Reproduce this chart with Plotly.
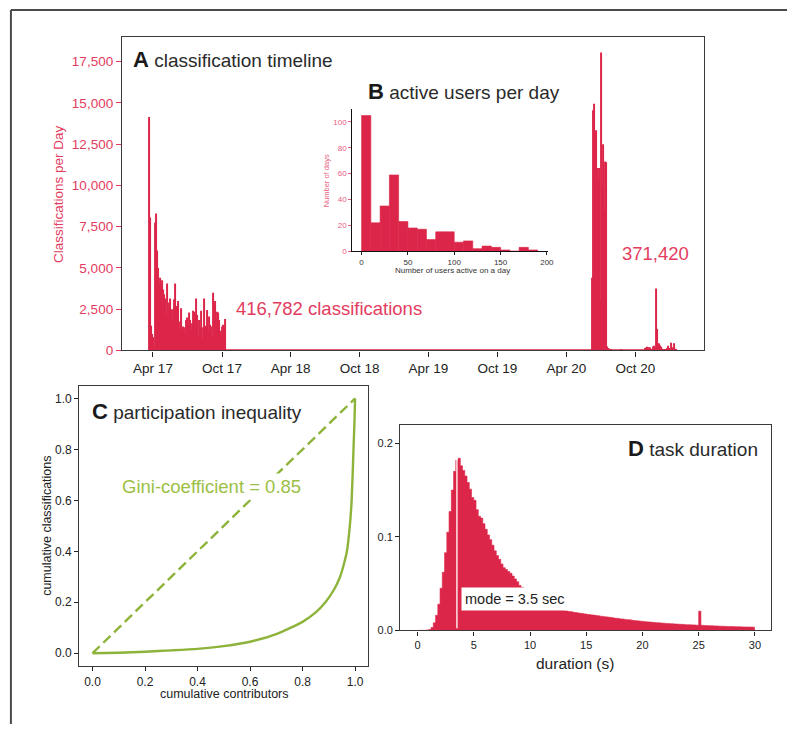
import datetime as dt
import plotly.graph_objects as go

W, H = 793, 732

# ---------------- A: classification timeline ----------------
timeline_tick_dates = ["2017-04-01", "2017-10-01", "2018-04-01", "2018-10-01",
                       "2019-04-01", "2019-10-01", "2020-04-01", "2020-10-01"]
timeline_tick_labels = ["Apr 17", "Oct 17", "Apr 18", "Oct 18",
                        "Apr 19", "Oct 19", "Apr 20", "Oct 20"]
timeline_range = ["2017-01-09", "2021-03-31"]
classif_ticks = [0, 2500, 5000, 7500, 10000, 12500, 15000, 17500]
bin_days = 2.63  # one bar per ~2.6 days as resolved in the picture
phase1_start = "2017-03-21"
phase1_daily = [14150, 8050, 1500, 1000, 800, 220, 7750, 8300, 6050, 5000,
                4050, 4400, 3850, 4250, 3700, 3400, 3150, 2150, 4050, 2500,
                2900, 3150, 2500, 1900, 2500, 3100, 4050, 2700, 2700, 3000,
                1350, 1750, 2550, 1250, 1450, 1400, 1050, 1850, 2000, 1500,
                2300, 1850, 1300, 1650, 2400, 2350, 2150, 3150, 2150, 900,
                1850, 1300, 2400, 700, 1400, 3150, 1400, 1500, 2450, 1200,
                2050, 1550, 1450, 850, 3500, 2800, 3000, 1900, 2350, 2300,
                1850, 1200, 950, 1450, 1550, 1450, 1900]
phase2_start = "2020-06-06"
phase2_daily = [4400, 14550, 14950, 13250, 13350, 11050, 10450, 11050, 3050, 18050,
                9950, 12500, 8500, 11450, 11400, 240, 140, 100, 60, 40,
                0, 0, 0, 0, 0, 0, 0, 0, 0, 0,
                80, 0, 0, 0, 0, 0, 0, 0, 0, 0,
                0, 0, 0, 0, 0, 0, 0, 0, 0, 0,
                0, 0, 0, 0, 140, 180, 220, 160, 200, 180,
                40, 80, 240, 280, 140, 3750, 1300, 440, 420, 300,
                220, 100, 60, 40, 40, 60, 140, 280, 140, 40,
                460, 200, 100, 440, 100, 60]
phase1_total = 416782
phase2_total = 371420

# ---------------- B: active users per day ----------------
users_bin_left = [0, 10, 20, 30, 40, 50, 60, 70, 80, 90,
                  100, 110, 120, 130, 140, 150, 160, 170, 180]
users_bin_width = 10
days_count = [105, 22, 35, 59, 23, 18, 17, 9, 15, 15,
              7, 8, 2, 4, 3, 1, 0, 3, 1]
users_ticks = [0, 50, 100, 150, 200]
days_ticks = [0, 20, 40, 60, 80, 100]

# ---------------- C: participation inequality ----------------
contrib_share = [0, 0.1, 0.2, 0.3, 0.4, 0.5, 0.6, 0.7, 0.8, 0.85,
                 0.887, 0.92, 0.943, 0.96, 0.969, 0.98, 0.987, 0.994, 0.998, 1.0]
classif_share = [0, 0.002, 0.006, 0.011, 0.017, 0.028, 0.045, 0.075, 0.123, 0.16,
                 0.2, 0.25, 0.3, 0.36, 0.4, 0.5, 0.6, 0.8, 0.92, 1.0]
equality = [0, 1]
gini = 0.85
lorenz_ticks = [0.0, 0.2, 0.4, 0.6, 0.8, 1.0]

# ---------------- D: task duration ----------------
duration_bin_width = 0.2
duration_density = [
    0, 0, 0, 0, 0.0004, 0.001, 0.003, 0.008, 0.016, 0.028,
    0.045, 0.062, 0.083, 0.105, 0.127, 0.150, 0.170, 0.182, 0.184, 0.176,
    0.171, 0.165, 0.158, 0.151, 0.142, 0.139, 0.129, 0.122, 0.120, 0.114,
    0.108, 0.102, 0.097, 0.091, 0.085, 0.080, 0.076, 0.071, 0.067, 0.065,
    0.063, 0.061, 0.058, 0.055, 0.052, 0.048, 0.046, 0.044, 0.042, 0.040,
    0.039, 0.037, 0.036, 0.034, 0.033, 0.031, 0.030, 0.029, 0.028, 0.027,
    0.026, 0.025, 0.024, 0.023, 0.022, 0.0212, 0.0208, 0.0201, 0.0199, 0.0193,
    0.0190, 0.0186, 0.0182, 0.0179, 0.0176, 0.0171, 0.0169, 0.0165, 0.0163, 0.0158,
    0.0156, 0.0151, 0.0149, 0.0145, 0.0143, 0.0139, 0.0136, 0.0131, 0.0129, 0.0127,
    0.0122, 0.0120, 0.0117, 0.0114, 0.0112, 0.0108, 0.0105, 0.0103, 0.0100, 0.0098,
    0.0095, 0.0093, 0.0090, 0.0089, 0.0086, 0.0084, 0.0082, 0.0080, 0.0078, 0.0077,
    0.0074, 0.0073, 0.0071, 0.0070, 0.0068, 0.0067, 0.0065, 0.0064, 0.0063, 0.0061,
    0.0060, 0.0059, 0.0058, 0.0057, 0.0055, 0.0205, 0.0054, 0.0052, 0.0051, 0.0050,
    0.0049, 0.0048, 0.0047, 0.0046, 0.0045, 0.0044, 0.0043, 0.0042, 0.0041, 0.0041,
    0.0040, 0.0039, 0.0038, 0.0038, 0.0037, 0.0036, 0.0036, 0.0035, 0.0035, 0.0034]
duration_ticks = [0, 5, 10, 15, 20, 25, 30]
density_ticks = [0.0, 0.1, 0.2]
mode_sec = 3.5

# ---------------- styling ----------------
FONT = "Liberation Sans"
BAR = "#dc2649"
RED_TXT = "#e33c60"
PINK_TXT = "#e8607f"
GREEN = "#8db33a"
GREEN_TXT = "#9cbf45"
DARK = "#222222"
FRAME = "#3a3a3a"
BAR_MARKER = dict(color=BAR, line=dict(color=BAR, width=0.6))


def px_x(p):
    return p / W


def px_y(p):
    return 1 - p / H


def bar_centers(start, n):
    s = dt.datetime.fromisoformat(start)
    return [s + dt.timedelta(days=bin_days * (i + 0.5)) for i in range(n)]


fig = go.Figure()

# A
fig.add_trace(go.Scatter(
    x=[phase1_start,
       dt.datetime.fromisoformat(phase2_start) + dt.timedelta(days=bin_days * len(phase2_daily))],
    y=[0, 0], mode="lines", line=dict(color=BAR, width=2.2),
    xaxis="x", yaxis="y", showlegend=False, hoverinfo="skip"))
for start, vals in [(phase1_start, phase1_daily), (phase2_start, phase2_daily)]:
    fig.add_trace(go.Bar(
        x=bar_centers(start, len(vals)), y=vals,
        width=bin_days * 86400000, marker=dict(color=BAR, line=dict(width=0)),
        xaxis="x", yaxis="y", showlegend=False))

# B (inset)
fig.add_trace(go.Bar(
    x=users_bin_left, y=days_count, offset=0, width=users_bin_width,
    marker=BAR_MARKER, xaxis="x2", yaxis="y2", showlegend=False))

# C
fig.add_trace(go.Scatter(
    x=equality, y=equality, mode="lines",
    line=dict(color=GREEN, width=2.4, dash="10px,5px"),
    xaxis="x3", yaxis="y3", showlegend=False))
fig.add_trace(go.Scatter(
    x=contrib_share, y=classif_share, mode="lines",
    line=dict(color=GREEN, width=2.4, shape="spline", smoothing=0.6),
    xaxis="x3", yaxis="y3", showlegend=False))

# D: histogram drawn as a filled step outline (no seams between thin bins)
dur_edges = [i * duration_bin_width for i in range(len(duration_density) + 1)]
fig.add_trace(go.Scatter(
    x=dur_edges, y=duration_density + [duration_density[-1]],
    mode="lines", line=dict(color=BAR, width=0.6, shape="hv"),
    fill="tozeroy", fillcolor=BAR,
    xaxis="x4", yaxis="y4", showlegend=False))

tick_common = dict(ticks="outside", showgrid=False, zeroline=False)
frame = dict(showline=True, mirror=True, linecolor=FRAME, linewidth=1.4)

fig.update_layout(
    width=W, height=H, autosize=False,
    margin=dict(l=0, r=0, t=0, b=0),
    paper_bgcolor="white", plot_bgcolor="white",
    font=dict(family=FONT, color=DARK),
    barmode="overlay",
    xaxis=dict(domain=[px_x(123), px_x(709)], anchor="y", type="date",
               range=timeline_range, tickvals=timeline_tick_dates,
               ticktext=timeline_tick_labels, ticklen=5, tickcolor=DARK,
               tickfont=dict(size=13.5, color=DARK), **tick_common, **frame),
    yaxis=dict(domain=[px_y(354.3), px_y(37.5)], anchor="x",
               range=[0, 18990], tickvals=classif_ticks,
               ticktext=[f"{v:,}" for v in classif_ticks], ticklen=5,
               tickcolor=RED_TXT, tickfont=dict(size=13.5, color=RED_TXT),
               **tick_common, **frame),
    xaxis2=dict(domain=[px_x(355), px_x(552)], anchor="y2", range=[-10, 201],
                tickvals=users_ticks, ticklen=3, tickcolor=DARK,
                tickfont=dict(size=8, color="#333"), showline=True,
                linecolor="#111", linewidth=1, **tick_common),
    yaxis2=dict(domain=[px_y(254), px_y(110)], anchor="x2", range=[0, 110.2],
                tickvals=days_ticks, ticklen=3, tickcolor=PINK_TXT,
                tickfont=dict(size=8, color=PINK_TXT), showline=True,
                linecolor="#111", linewidth=1, **tick_common),
    xaxis3=dict(domain=[px_x(80), px_x(371)], anchor="y3", range=[-0.05, 1.05],
                tickvals=lorenz_ticks, tickformat=".1f", ticklen=4, tickcolor=DARK,
                tickfont=dict(size=12, color=DARK), **tick_common, **frame),
    yaxis3=dict(domain=[px_y(673.3), px_y(390)], anchor="x3", range=[-0.05, 1.05],
                tickvals=lorenz_ticks, tickformat=".1f", ticklen=4, tickcolor=DARK,
                tickfont=dict(size=12, color=DARK), **tick_common, **frame),
    xaxis4=dict(domain=[px_x(403.3), px_x(777.3)], anchor="y4", range=[-1.54, 31.47],
                tickvals=duration_ticks, ticklen=4, tickcolor=DARK,
                tickfont=dict(size=11, color=DARK), **tick_common, **frame),
    yaxis4=dict(domain=[px_y(637.3), px_y(429.3)], anchor="x4", range=[0, 0.22],
                tickvals=density_ticks, tickformat=".1f", ticklen=4, tickcolor=DARK,
                tickfont=dict(size=11, color=DARK), **tick_common, **frame),
)


def title(letter, text):
    return (f"<b><span style='font-size:22px;color:#1a1a1a'>{letter}</span></b>"
            f"<span style='font-size:19px;color:#2a2a2a'>&nbsp;{text}</span>")


ann = []
# panel titles
for letter, text, x, y in [("A", "classification timeline", 132, 60),
                           ("B", "active users per day", 369, 93),
                           ("C", "participation inequality", 91, 416),
                           ("D", "task duration", 630.5, 453)]:
    ann.append(dict(text=title(letter, text), x=px_x(x), y=px_y(y), xref="paper",
                    yref="paper", xanchor="left", yanchor="middle", showarrow=False))

# totals in A
ann.append(dict(text=f"{phase1_total:,} classifications", x=px_x(236), y=px_y(312),
                xref="paper", yref="paper", xanchor="left", yanchor="middle",
                showarrow=False, font=dict(size=18.5, color=RED_TXT)))
ann.append(dict(text=f"{phase2_total:,}", x=px_x(625), y=px_y(256),
                xref="paper", yref="paper", xanchor="left", yanchor="middle",
                showarrow=False, font=dict(size=18.5, color=RED_TXT)))

# axis titles
axis_titles = [
    dict(text="Classifications per Day", x=px_x(59.2), y=px_y(196.5), textangle=-90,
         font=dict(size=13.5, color=RED_TXT)),
    dict(text="Number of days", x=px_x(328.5), y=px_y(183.3), textangle=-90,
         font=dict(size=7.5, color=PINK_TXT)),
    dict(text="Number of users active on a day", x=px_x(455.8), y=px_y(273),
         font=dict(size=8, color="#333")),
    dict(text="cumulative classifications", x=px_x(47.3), y=px_y(531.7), textangle=-90,
         font=dict(size=12.5, color=DARK)),
    dict(text="cumulative contributors", x=px_x(226), y=px_y(701.6),
         font=dict(size=12.5, color=DARK)),
    dict(text="duration (s)", x=px_x(579.7), y=px_y(671),
         font=dict(size=15.5, color=DARK)),
]
for a in axis_titles:
    a.update(xref="paper", yref="paper", xanchor="center", yanchor="middle",
             showarrow=False, borderpad=0)
ann += axis_titles

# Gini label
ann.append(dict(text=f"Gini-coefficient = {gini:.2f}", x=0.1, y=0.653, xref="x3", yref="y3",
                xanchor="left", yanchor="middle", showarrow=False, bgcolor="white",
                borderpad=2, font=dict(size=18.5, color=GREEN_TXT)))
# mode label
ann.append(dict(text=f"mode = {mode_sec} sec", x=mode_sec + 0.4, y=0.034, xref="x4", yref="y4",
                xanchor="left", yanchor="middle", showarrow=False, bgcolor="white",
                borderpad=3, font=dict(size=14.5, color=DARK)))

fig.update_layout(annotations=ann)

shapes = [
    # mode marker
    dict(type="line", xref="x4", yref="y4 domain", x0=mode_sec, x1=mode_sec,
         y0=0.01, y1=0.97, line=dict(color="white", width=1.3)),
    # outer figure frame (top and left)
    dict(type="line", xref="paper", yref="paper", x0=px_x(11), x1=1,
         y0=px_y(10), y1=px_y(10), line=dict(color="#4a4a4a", width=2)),
    dict(type="line", xref="paper", yref="paper", x0=px_x(11), x1=px_x(11),
         y0=0, y1=px_y(10), line=dict(color="#4a4a4a", width=2)),
]
fig.update_layout(shapes=shapes)

fig.write_html(
    "out.html",
    config={"displayModeBar": False},
    post_script=("document.body.style.margin='0';"
                 "document.documentElement.style.overflow='hidden';"),
)
